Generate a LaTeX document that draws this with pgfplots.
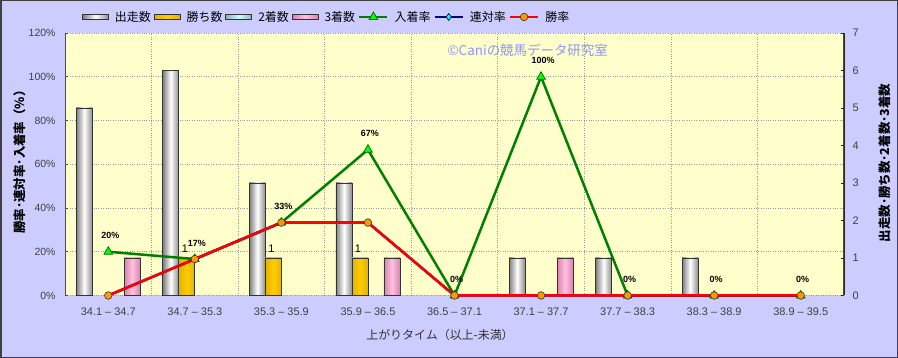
\documentclass[border=0pt]{standalone}
\usepackage{pgfplots}
\pgfplotsset{compat=1.18}
\usepackage{pgfplotstable}
\usepackage{fontspec}
\setmainfont{Liberation Sans}
\newfontfamily\cjk{Noto Sans CJK JP}
\definecolor{bgc}{HTML}{CCCCFF}
\definecolor{plotbg}{HTML}{FFFFCC}
\definecolor{wm}{HTML}{8C96FA}
\definecolor{goldc}{HTML}{FFCC00}
\definecolor{aquac}{HTML}{CCFFFF}
\definecolor{pinkc}{HTML}{FF99CC}
\definecolor{grn}{HTML}{008000}
\definecolor{limec}{HTML}{00FF00}
\definecolor{navyc}{HTML}{000080}
\definecolor{orng}{HTML}{FF9900}
\definecolor{cyanc}{HTML}{00FFFF}

\pgfplotstableread{
x run win second third show quin winr
1 5 0 0 1 20 0 0
2 6 1 0 0 16.667 16.667 16.667
3 3 1 0 0 33.333 33.333 33.333
4 3 1 0 1 66.667 33.333 33.333
5 0 0 0 0 0 0 0
6 1 0 0 1 100 0 0
7 1 0 0 0 0 0 0
8 1 0 0 0 0 0 0
9 0 0 0 0 0 0 0
}\data

\tikzset{
  runbar/.style={draw=black!80, line width=0.8bp, left color=black!50, right color=black!45, middle color=white},
  winbar/.style={draw=black!80, line width=0.8bp, left color=goldc!88!black, right color=goldc!88!black, middle color=goldc},
  secbar/.style={draw=black!80, line width=0.8bp, left color=aquac!70!black, right color=aquac!70!black, middle color=aquac},
  thirdbar/.style={draw=black!80, line width=0.8bp, left color=pinkc!85!black, right color=pinkc!85!black, middle color=pinkc!60!white},
}
\pgfplotsset{
  common/.style={at={(65bp,62.5bp)}, anchor=south west, scale only axis,
    width=779bp, height=262.5bp, xmin=0.5, xmax=9.5},
  /pgf/number format/assume math mode=true,
}

\begin{document}
\begin{tikzpicture}
\useasboundingbox (0,0) rectangle (898bp,358bp);
\draw[fill=bgc, draw=black!75, line width=1.5bp] (0.75bp,0.75bp) rectangle (897.25bp,357.25bp);

% background axis: percent scale, grid, left ticks
\begin{axis}[common, ymin=0, ymax=120,
  axis background/.style={fill=plotbg},
  separate axis lines,
  x axis line style={draw=none},
  y axis line style={draw=black!70, line width=1bp},
  xtick={1,...,9},
  xticklabels={34.1 – 34.7, 34.7 – 35.3, 35.3 – 35.9, 35.9 – 36.5, 36.5 – 37.1, 37.1 – 37.7, 37.7 – 38.3, 38.3 – 38.9, 38.9 – 39.5},
  xtick style={draw=none},
  extra x ticks={1.5,2.5,3.5,4.5,5.5,6.5,7.5,8.5},
  extra x tick labels={},
  extra x tick style={grid=major},
  ytick={0,20,40,60,80,100,120},
  yticklabels={0\%,20\%,40\%,60\%,80\%,100\%,120\%},
  ymajorgrids,
  ytick pos=left,
  tick align=inside, major tick length=3bp,
  ytick style={draw=black!70, line width=0.8bp},
  grid style={dotted, black!40, line width=0.7bp},
  yticklabel style={font=\fontsize{10.5}{10.5}\selectfont, text=black!75, xshift=-6bp},
  xticklabel style={font=\fontsize{11}{11}\selectfont, text=black!75, yshift=-9bp},
]
\addplot[draw=none, forget plot] coordinates {(1,0)};
\end{axis}

% bar axis: counts, right ticks
\begin{axis}[common, ymin=0, ymax=7,
  axis x line=none, xtick=\empty,
  axis y line*=right,
  axis line style={-},
  y axis line style={draw=black!85, line width=1bp},
  ytick={0,1,2,3,4,5,6,7},
  yticklabels={0,1,2,3,4,5,6,7},
  tick align=inside, major tick length=3bp,
  ytick style={draw=black!85, line width=0.8bp},
  yticklabel style={font=\fontsize{11}{11}\selectfont, text=black!75, xshift=5bp},
  unbounded coords=discard,
]
\pgfplotsinvokeforeach{1,...,9}{
\addplot[ybar, bar width=16bp, bar shift=-24bp, runbar, restrict x to domain=#1:#1, y filter/.expression={y==0 ? nan : y}] table[x=x, y=run] {\data};
\addplot[ybar, bar width=16bp, bar shift=-8bp, winbar, restrict x to domain=#1:#1, y filter/.expression={y==0 ? nan : y}] table[x=x, y=win] {\data};
\addplot[ybar, bar width=16bp, bar shift=8bp, secbar, restrict x to domain=#1:#1, y filter/.expression={y==0 ? nan : y}] table[x=x, y=second] {\data};
\addplot[ybar, bar width=16bp, bar shift=24bp, thirdbar, restrict x to domain=#1:#1, y filter/.expression={y==0 ? nan : y}] table[x=x, y=third] {\data};
}
\addplot[draw=none, forget plot, y filter/.expression={y==0 ? nan : y},
  nodes near coords, point meta=y,
  every node near coord/.append style={font=\fontsize{11}{11}\selectfont, text=black, inner sep=0pt, xshift=-10bp, yshift=5bp}] table[x=x, y=win] {\data};
\end{axis}

% line axis: percent
\begin{axis}[common, ymin=0, ymax=120, hide axis, clip=false,
  legend columns=-1,
  legend image code/.code={\draw[mark repeat=2,mark phase=2,#1] plot coordinates {(0bp,0bp) (14bp,0bp) (28bp,0bp)};},
  legend style={at={(axis description cs:0.0218,1.061)}, anchor=west, draw=none, fill=none,
    font=\cjk\fontsize{12}{12}\selectfont, inner sep=0pt,
    /tikz/every even column/.append style={column sep=1bp},
    /tikz/every odd column/.append style={column sep=4bp}},
]
\addlegendimage{legend image code/.code={\draw[runbar] (0bp,-2.5bp) rectangle (26bp,2.5bp);}}
\addlegendentry{出走数}
\addlegendimage{legend image code/.code={\draw[winbar] (0bp,-2.5bp) rectangle (26bp,2.5bp);}}
\addlegendentry{勝ち数}
\addlegendimage{legend image code/.code={\draw[secbar] (0bp,-2.5bp) rectangle (26bp,2.5bp);}}
\addlegendentry{2着数}
\addlegendimage{legend image code/.code={\draw[thirdbar] (0bp,-2.5bp) rectangle (26bp,2.5bp);}}
\addlegendentry{3着数}
\addplot[grn, line width=2.5bp, mark=triangle*, mark size=5bp,
  mark options={fill=limec, draw=black!60!green, line width=0.7bp}] table[x=x, y=show] {\data};
\addlegendentry{入着率}
\addplot[navyc, line width=2.5bp, mark=diamond*, mark size=3.5bp,
  mark options={fill=cyanc, draw=black, line width=0.6bp}] table[x=x, y=quin] {\data};
\addlegendentry{連対率}
\addplot[red, line width=2.5bp, mark=*, mark size=3.8bp,
  mark options={fill=orng, draw=black!80, line width=0.6bp}] table[x=x, y=winr] {\data};
\addlegendentry{勝率}
\addplot[draw=none, forget plot,
  nodes near coords={\pgfmathprintnumber[fixed,precision=0]{\pgfplotspointmeta}\%},
  point meta=y,
  every node near coord/.append style={font=\bfseries\fontsize{9}{9}\selectfont, text=black, inner sep=0pt, xshift=2bp, yshift=12.5bp}] table[x=x, y=show] {\data};
\end{axis}

\node[rotate=90, font=\cjk\bfseries\fontsize{12.5}{12.5}\selectfont] at (20bp,199bp) {勝率･連対率･入着率（\%）};
\node[rotate=90, font=\cjk\bfseries\fontsize{12.5}{12.5}\selectfont] at (885bp,195bp) {出走数･勝ち数･2着数･3着数};
\node[font=\cjk\fontsize{12}{12}\selectfont, text=black!80] at (440bp,23bp) {上がりタイム（以上-未満）};
\node[anchor=west, font=\cjk\fontsize{13.5}{13.5}\selectfont, text=wm] at (444bp,308bp) {©Caniの競馬データ研究室};
\end{tikzpicture}
\end{document}
